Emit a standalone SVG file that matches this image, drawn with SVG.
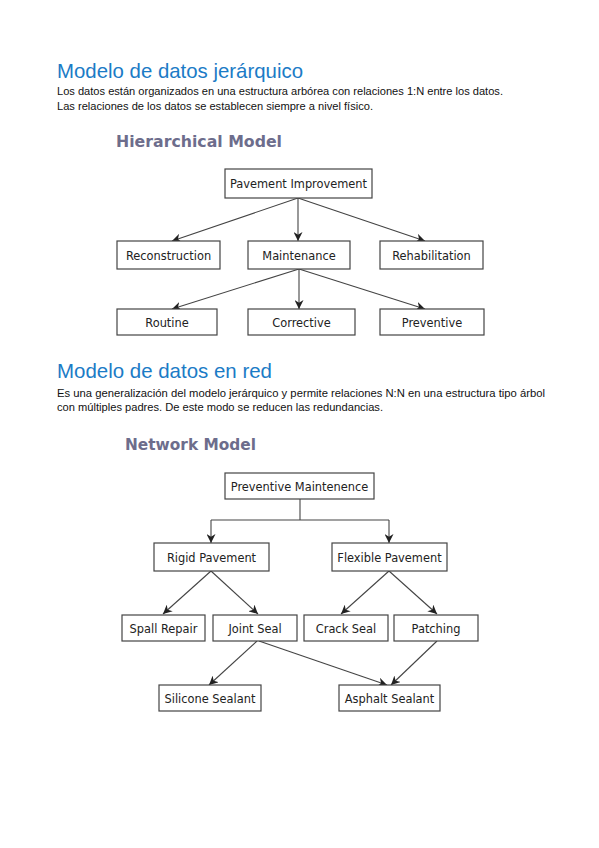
<svg xmlns="http://www.w3.org/2000/svg" width="599" height="848" viewBox="0 0 599 848">
<style>
.h1{font-family:"Liberation Sans",Arial,sans-serif;font-size:21px;fill:#1b7bc6}
.p{font-family:"Liberation Sans",Arial,sans-serif;font-size:10px;fill:#111}
.h2{font-family:"DejaVu Sans",sans-serif;font-size:15px;font-weight:bold;fill:#6d6d8c}
.box{fill:#fff;stroke:#444;stroke-width:1.2}
.lbl{font-family:"DejaVu Sans",sans-serif;font-size:11.4px;fill:#222;text-anchor:middle}
.c{fill:none;stroke:#444;stroke-width:1.1}
</style>
<defs>
<marker id="ah" viewBox="0 0 10 10" refX="10" refY="5" markerWidth="9" markerHeight="9" markerUnits="userSpaceOnUse" orient="auto">
<path d="M0,0 L10,5 L0,10 L3,5 Z" fill="#222"/>
</marker>
</defs>
<rect width="599" height="848" fill="#fff"/>

<text class="h1" x="57" y="78" textLength="246" lengthAdjust="spacingAndGlyphs">Modelo de datos jerárquico</text>
<text class="p" x="57" y="95" textLength="446" lengthAdjust="spacingAndGlyphs">Los datos están organizados en una estructura arbórea con relaciones 1:N entre los datos.</text>
<text class="p" x="57" y="110" textLength="316" lengthAdjust="spacingAndGlyphs">Las relaciones de los datos se establecen siempre a nivel físico.</text>

<text class="h2" x="116" y="147" textLength="166" lengthAdjust="spacingAndGlyphs">Hierarchical Model</text>

<g id="connectors-h">
<path class="c" d="M298,198 L172,241" marker-end="url(#ah)"/>
<path class="c" d="M298,198 L298,241" marker-end="url(#ah)"/>
<path class="c" d="M298,198 L425,241" marker-end="url(#ah)"/>
<path class="c" d="M299,269 L172,309" marker-end="url(#ah)"/>
<path class="c" d="M299,269 L299,309" marker-end="url(#ah)"/>
<path class="c" d="M299,269 L425,309" marker-end="url(#ah)"/>
</g>

<g id="pavement-improvement"><rect class="box" x="225" y="169" width="147" height="29"/><text class="lbl" x="298.5" y="188">Pavement Improvement</text></g>
<g id="reconstruction"><rect class="box" x="117" y="241" width="103" height="28"/><text class="lbl" x="168.5" y="259.5">Reconstruction</text></g>
<g id="maintenance"><rect class="box" x="248" y="241" width="102" height="28"/><text class="lbl" x="299" y="259.5">Maintenance</text></g>
<g id="rehabilitation"><rect class="box" x="380" y="241" width="103" height="28"/><text class="lbl" x="431.5" y="259.5">Rehabilitation</text></g>
<g id="routine"><rect class="box" x="117" y="309" width="100" height="26"/><text class="lbl" x="167" y="326.5">Routine</text></g>
<g id="corrective"><rect class="box" x="248" y="309" width="107" height="26"/><text class="lbl" x="301.5" y="326.5">Corrective</text></g>
<g id="preventive"><rect class="box" x="380" y="309" width="104" height="26"/><text class="lbl" x="432" y="326.5">Preventive</text></g>

<text class="h1" x="57" y="378" textLength="215" lengthAdjust="spacingAndGlyphs">Modelo de datos en red</text>
<text class="p" x="57" y="397" textLength="488" lengthAdjust="spacingAndGlyphs">Es una generalización del modelo jerárquico y permite relaciones N:N en una estructura tipo árbol</text>
<text class="p" x="57" y="411" textLength="326" lengthAdjust="spacingAndGlyphs">con múltiples padres. De este modo se reducen las redundancias.</text>

<text class="h2" x="125" y="450" textLength="131" lengthAdjust="spacingAndGlyphs">Network Model</text>

<g id="connectors-n">
<path class="c" d="M300,499 L300,520"/>
<path class="c" d="M211,520 L389,520"/>
<path class="c" d="M211,520 L211,543" marker-end="url(#ah)"/>
<path class="c" d="M389,520 L389,543" marker-end="url(#ah)"/>
<path class="c" d="M211,571 L163,614" marker-end="url(#ah)"/>
<path class="c" d="M211,571 L258,614" marker-end="url(#ah)"/>
<path class="c" d="M389,571 L341,614" marker-end="url(#ah)"/>
<path class="c" d="M389,571 L437,614" marker-end="url(#ah)"/>
<path class="c" d="M257,641 L209,685" marker-end="url(#ah)"/>
<path class="c" d="M259,641 L387,685" marker-end="url(#ah)"/>
<path class="c" d="M437,641 L391,685" marker-end="url(#ah)"/>
</g>

<g id="preventive-maintenence"><rect class="box" x="225" y="473" width="149" height="26"/><text class="lbl" x="299.5" y="490.5">Preventive Maintenence</text></g>
<g id="rigid-pavement"><rect class="box" x="154" y="543" width="115" height="28"/><text class="lbl" x="211.5" y="561.5">Rigid Pavement</text></g>
<g id="flexible-pavement"><rect class="box" x="332" y="543" width="115" height="28"/><text class="lbl" x="389.5" y="561.5">Flexible Pavement</text></g>
<g id="spall-repair"><rect class="box" x="122" y="615" width="83" height="26"/><text class="lbl" x="163.5" y="632.5">Spall Repair</text></g>
<g id="joint-seal"><rect class="box" x="213" y="615" width="84" height="26"/><text class="lbl" x="255" y="632.5">Joint Seal</text></g>
<g id="crack-seal"><rect class="box" x="304" y="615" width="84" height="26"/><text class="lbl" x="346" y="632.5">Crack Seal</text></g>
<g id="patching"><rect class="box" x="394" y="615" width="84" height="26"/><text class="lbl" x="436" y="632.5">Patching</text></g>
<g id="silicone-sealant"><rect class="box" x="159" y="685" width="102" height="26"/><text class="lbl" x="210" y="702.5">Silicone Sealant</text></g>
<g id="asphalt-sealant"><rect class="box" x="339" y="685" width="101" height="26"/><text class="lbl" x="389.5" y="702.5">Asphalt Sealant</text></g>
</svg>
